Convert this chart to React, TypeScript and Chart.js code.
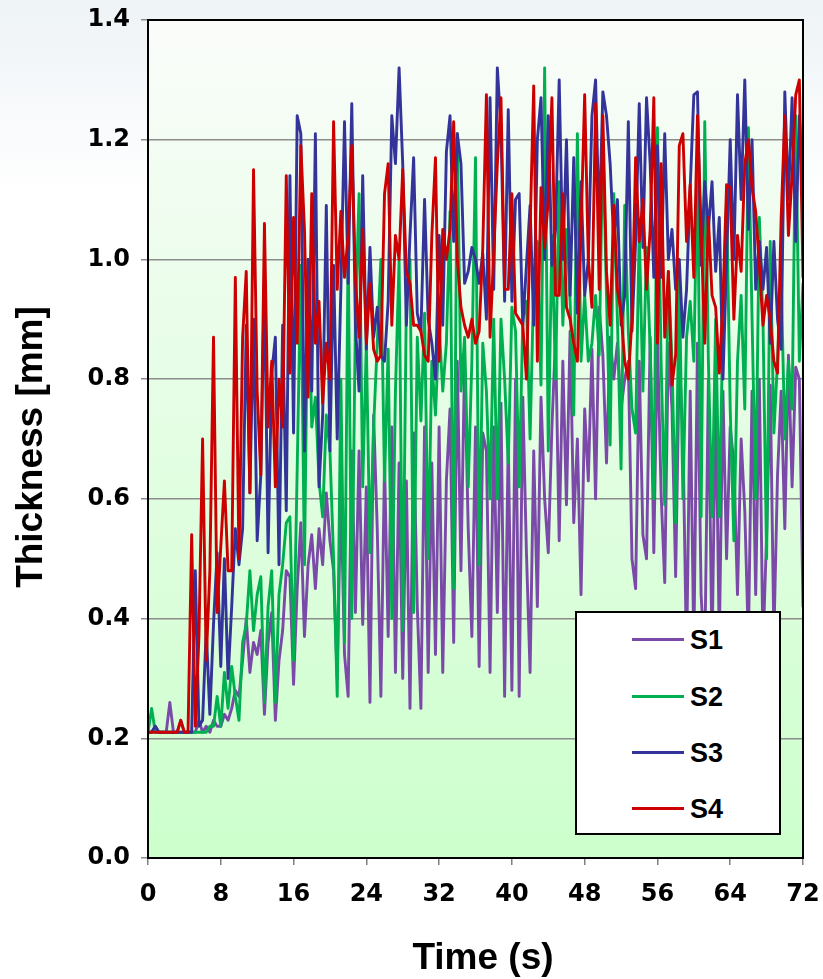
import React, { useEffect, useRef } from "react";
import { Chart, registerables } from "chart.js";

Chart.register(...registerables);

// ---- data (time step 0.4 s, from 0 to 72 s) ----
const DT = 0.4;

const S1 = [
  0.21, 0.21, 0.22, 0.21, 0.21, 0.21, 0.26, 0.21, 0.21, 0.23,
  0.21, 0.21, 0.21, 0.21, 0.23, 0.21, 0.22, 0.21, 0.23, 0.22,
  0.22, 0.24, 0.23, 0.25, 0.28, 0.27, 0.33, 0.40, 0.31, 0.36,
  0.34, 0.38, 0.24, 0.36, 0.41, 0.23, 0.33, 0.38, 0.48, 0.47,
  0.29, 0.45, 0.56, 0.37, 0.49, 0.54, 0.45, 0.55, 0.49, 0.61,
  0.53, 0.48, 0.30, 0.62, 0.34, 0.27, 0.68, 0.41, 0.68, 0.39,
  0.62, 0.26, 0.74, 0.55, 0.27, 0.66, 0.37, 0.72, 0.31, 0.66,
  0.30, 0.63, 0.25, 0.71, 0.42, 0.25, 0.72, 0.31, 0.66, 0.34,
  0.72, 0.31, 0.63, 0.75, 0.36, 0.83, 0.48, 0.83, 0.55, 0.37,
  0.72, 0.32, 0.71, 0.68, 0.31, 0.72, 0.41, 0.76, 0.27, 0.70,
  0.28, 0.80, 0.27, 0.77, 0.51, 0.31, 0.68, 0.42, 0.77, 0.60,
  0.51, 0.72, 0.87, 0.53, 0.83, 0.59, 0.88, 0.56, 0.70, 0.44,
  0.75, 0.63, 0.85, 0.60, 0.92, 0.84, 0.66, 0.87, 0.80, 0.86,
  0.75, 0.80, 0.83, 0.50, 0.45, 0.83, 0.54, 0.50, 0.87, 0.51,
  0.87, 0.61, 0.46, 0.86, 0.75, 0.47, 0.83, 0.71, 0.33, 0.78,
  0.35, 0.86, 0.44, 0.33, 0.80, 0.34, 0.78, 0.36, 0.78, 0.50,
  0.72, 0.66, 0.44, 0.70, 0.58, 0.36, 0.78, 0.44, 0.80, 0.35,
  0.54, 0.79, 0.37, 0.64, 0.78, 0.55, 0.84, 0.62, 0.82, 0.80,
  0.42,
];

const S2 = [
  0.21, 0.25, 0.21, 0.21, 0.21, 0.21, 0.21, 0.21, 0.21, 0.21,
  0.21, 0.21, 0.21, 0.21, 0.21, 0.21, 0.21, 0.22, 0.22, 0.27,
  0.22, 0.31, 0.25, 0.32, 0.27, 0.23, 0.36, 0.39, 0.48, 0.38,
  0.44, 0.47, 0.26, 0.42, 0.48, 0.26, 0.44, 0.49, 0.56, 0.57,
  0.33, 0.65, 0.99, 0.49, 1.00, 0.72, 0.77, 0.63, 0.57, 0.74,
  0.68, 0.50, 0.27, 0.80, 0.36, 1.02, 0.40, 0.90, 1.11, 0.62,
  0.86, 0.51, 0.72, 0.86, 1.00, 0.63, 0.85, 0.40, 0.78, 1.00,
  0.38, 0.93, 1.00, 0.41, 0.87, 0.73, 0.91, 0.50, 0.83, 0.74,
  0.89, 0.78, 0.86, 1.08, 0.45, 1.21, 0.78, 0.87, 0.62, 0.83,
  1.17, 0.49, 0.86, 0.78, 0.60, 0.90, 0.60, 0.90, 0.80, 0.66,
  0.92, 0.88, 0.62, 0.90, 0.93, 0.70, 0.96, 1.03, 0.79, 1.32,
  0.68, 1.04, 0.80, 1.13, 0.89, 1.05, 0.93, 0.74, 1.21, 0.83,
  0.94, 0.83, 0.86, 0.94, 0.84, 1.20, 0.94, 0.69, 1.11, 0.90,
  0.65, 1.09, 0.88, 0.75, 0.71, 1.05, 0.78, 1.02, 0.85, 0.60,
  1.22, 0.83, 0.59, 0.98, 0.83, 0.56, 0.97, 0.60, 0.87, 0.93,
  0.83, 1.16, 0.57, 1.23, 0.83, 0.57, 0.90, 0.57, 0.90, 1.10,
  0.75, 0.53, 0.83, 0.94, 0.75, 1.22, 0.90, 0.60, 1.07, 0.90,
  0.50, 1.03, 0.71, 0.83, 0.97, 0.70, 0.83, 0.75, 1.24, 0.83,
  0.96,
];

const S3 = [
  0.21, 0.21, 0.22, 0.21, 0.21, 0.21, 0.21, 0.21, 0.21, 0.21,
  0.21, 0.21, 0.21, 0.48, 0.22, 0.23, 0.38, 0.24, 0.39, 0.51,
  0.32, 0.50, 0.30, 0.42, 0.55, 0.49, 0.55, 0.89, 0.61, 0.90,
  0.53, 0.64, 0.97, 0.51, 0.81, 0.87, 0.49, 0.89, 0.58, 1.14,
  0.71, 1.24, 1.21, 0.68, 1.00, 0.78, 1.21, 0.62, 0.74, 1.09,
  0.68, 0.99, 0.70, 0.95, 1.23, 0.96, 1.26, 0.89, 0.78, 1.14,
  0.85, 1.02, 0.87, 0.92, 0.84, 0.83, 0.93, 1.24, 1.16, 1.32,
  1.16, 0.89, 1.04, 1.17, 0.91, 0.88, 1.10, 0.90, 0.86, 0.80,
  1.04, 0.89, 1.18, 1.24, 1.03, 1.21, 1.16, 0.96, 0.98, 1.02,
  1.00, 0.96, 1.01, 0.90, 1.27, 0.95, 1.32, 1.22, 0.93, 1.25,
  0.93, 1.10, 1.11, 0.89, 0.99, 1.09, 0.89, 1.20, 1.27, 1.00,
  1.24, 0.99, 1.05, 1.30, 1.00, 1.20, 0.94, 1.17, 0.91, 1.13,
  0.94, 1.00, 1.24, 1.30, 1.05, 1.28, 1.24, 1.16, 1.03, 1.10,
  0.89, 0.94, 1.23, 0.88, 1.03, 1.26, 1.02, 1.27, 1.16, 0.97,
  1.19, 0.97, 1.21, 1.00, 1.05, 0.95, 1.00, 0.87, 0.95, 1.12,
  1.275, 1.28, 0.99, 1.13, 1.05, 1.13, 0.98, 1.07, 0.80, 1.00,
  1.20, 1.00, 1.275, 1.10, 1.30, 1.05, 1.20, 0.95, 1.03, 0.95,
  1.02, 0.86, 1.03, 0.90, 0.85, 1.28, 1.10, 1.27, 1.03, 1.24,
  1.10,
];

const S4 = [
  0.21, 0.21, 0.21, 0.21, 0.21, 0.21, 0.21, 0.21, 0.21, 0.23,
  0.21, 0.21, 0.54, 0.22, 0.37, 0.70, 0.33, 0.48, 0.87, 0.41,
  0.52, 0.63, 0.48, 0.48, 0.97, 0.50, 0.87, 0.98, 0.61, 1.15,
  0.78, 0.64, 1.06, 0.72, 0.83, 0.62, 0.80, 0.72, 1.14, 0.81,
  1.07, 0.86, 1.19, 1.05, 0.77, 1.11, 0.86, 0.93, 0.76, 0.86,
  0.80, 1.23, 0.95, 1.08, 0.97, 1.04, 1.19, 0.97, 0.87, 1.05,
  0.86, 0.96, 0.85, 0.83, 0.84, 1.11, 1.16, 0.89, 1.04, 1.00,
  1.15, 0.98, 0.96, 0.89, 0.89, 0.88, 0.84, 0.83, 1.04, 1.17,
  0.83, 1.05, 1.00, 1.05, 1.23, 1.00, 0.92, 0.89, 0.87, 0.90,
  0.86, 0.88, 1.02, 1.275, 0.87, 1.01, 1.16, 1.27, 0.95, 0.95,
  1.11, 0.91, 0.90, 0.89, 0.80, 1.05, 1.29, 0.83, 1.12, 1.02,
  1.10, 1.27, 0.94, 0.94, 1.11, 0.92, 0.90, 0.86, 0.83, 1.05,
  1.275, 1.00, 0.92, 1.26, 0.95, 1.24, 0.98, 0.89, 1.09, 0.95,
  0.91, 0.83, 0.80, 0.90, 1.17, 1.03, 1.10, 0.95, 1.05, 1.27,
  0.86, 1.16, 0.87, 0.98, 0.79, 0.84, 1.19, 1.21, 1.03, 1.125,
  0.97, 1.24, 1.05, 0.86, 1.07, 0.94, 0.92, 0.81, 0.93, 1.125,
  1.12, 0.90, 1.04, 0.98, 1.16, 1.20, 1.12, 1.08, 0.99, 0.89,
  0.94, 0.90, 0.83, 0.81, 1.07, 1.24, 1.04, 1.14, 1.275, 1.30,
  0.97,
];

const SERIES = [S1, S2, S3, S4];
const SERIES_NAMES = ["S1", "S2", "S3", "S4"];
const SERIES_COLORS = ["#7b4aa8", "#00b050", "#333399", "#cc0000"];

const X_MIN = 0;
const X_MAX = 72;
const X_STEP = 8;
const Y_MIN = 0;
const Y_MAX = 1.4;
const Y_STEP = 0.2;

const X_TITLE = "Time (s)";
const Y_TITLE = "Thickness [mm]";

const FONT = "'Liberation Sans', Arial, Helvetica, sans-serif";
const TICK_FONT = "'DejaVu Sans', Verdana, sans-serif";

const W = 823;
const H = 979;

const framePlugin = {
  id: "frame",
  beforeDraw(chart: any) {
    const { ctx, width, height, chartArea: a } = chart;
    ctx.save();
    const g = ctx.createLinearGradient(0, 0, 0, height);
    g.addColorStop(0, "#eef3f6");
    g.addColorStop(0.2, "#ffffff");
    g.addColorStop(1, "#ffffff");
    ctx.fillStyle = g;
    ctx.fillRect(0, 0, width, height);
    const pg = ctx.createLinearGradient(0, a.top, 0, a.bottom);
    pg.addColorStop(0, "#fafcfa");
    pg.addColorStop(1, "#ccffcc");
    ctx.fillStyle = pg;
    ctx.fillRect(a.left, a.top, a.right - a.left, a.bottom - a.top);
    ctx.restore();
  },
  afterDatasetsDraw(chart: any) {
    const { ctx, chartArea: a } = chart;
    ctx.save();
    ctx.strokeStyle = "#000";
    ctx.lineWidth = 2;
    ctx.strokeRect(a.left, a.top, a.right - a.left, a.bottom - a.top);
    ctx.restore();
  },
};

export default function App() {
  const ref = useRef<HTMLCanvasElement | null>(null);

  useEffect(() => {
    document.body.style.margin = "0";
    const canvas = ref.current;
    if (!canvas) return;
    const datasets = SERIES.map((vals, si) => ({
      label: SERIES_NAMES[si],
      data: vals.map((v, i) => ({ x: +(i * DT).toFixed(2), y: v })),
      borderColor: SERIES_COLORS[si],
      backgroundColor: SERIES_COLORS[si],
      borderWidth: 2.9,
      borderJoinStyle: "round",
      borderCapStyle: "round",
      pointRadius: 0,
      tension: 0,
      fill: false,
      order: SERIES.length - si,
    }));

    const chart = new Chart(canvas, {
      type: "line",
      data: { datasets },
      options: {
        responsive: false,
        animation: false,
        devicePixelRatio: 1,
        layout: { padding: { left: 0, right: 20, top: 20, bottom: 0 } },
        plugins: {
          legend: { display: false },
          tooltip: { enabled: false },
        },
        scales: {
          x: {
            type: "linear",
            min: X_MIN,
            max: X_MAX,
            ticks: {
              stepSize: X_STEP,
              color: "#000",
              padding: 15,
              maxRotation: 0,
              font: { family: TICK_FONT, size: 24, weight: "bold" },
            },
            grid: {
              drawOnChartArea: false,
              drawTicks: true,
              tickLength: 7,
              color: "#808080",
              lineWidth: 1.5,
            },
            border: { display: true, color: "#000", width: 2 },
            title: { display: false },
            afterFit: (s: any) => {
              s.height = H - 858;
              s.paddingLeft = 0;
              s.paddingRight = 0;
            },
          },
          y: {
            type: "linear",
            min: Y_MIN,
            max: Y_MAX,
            ticks: {
              stepSize: Y_STEP,
              color: "#000",
              padding: 11,
              font: { family: TICK_FONT, size: 24, weight: "bold" },
              callback: (v: any) => Number(v).toFixed(1),
            },
            grid: {
              color: "#8c8c8c",
              lineWidth: 1.5,
              drawTicks: true,
              tickLength: 7,
            },
            border: { display: true, color: "#000", width: 2 },
            title: { display: false },
            afterFit: (s: any) => {
              s.width = 148;
              s.paddingTop = 0;
              s.paddingBottom = 0;
            },
          },
        },
      },
      plugins: [framePlugin],
    } as any);

    return () => chart.destroy();
  }, []);

  const legendRows = [27, 84, 140, 196];

  const titleStyle: React.CSSProperties = {
    position: "absolute",
    fontFamily: FONT,
    fontWeight: "bold",
    fontSize: 37,
    lineHeight: "44px",
    height: 44,
    color: "#000",
    textAlign: "center",
    whiteSpace: "nowrap",
  };

  return (
    <div style={{ position: "relative", width: W, height: H }}>
      <canvas ref={ref} width={W} height={H} style={{ display: "block" }} />
      <div style={{ ...titleStyle, left: 283, top: 935, width: 400 }}>{X_TITLE}</div>
      <div
        style={{
          ...titleStyle,
          left: 30 - 200,
          top: 447 - 22,
          width: 400,
          transform: "rotate(-90deg)",
          transformOrigin: "50% 50%",
        }}
      >
        {Y_TITLE}
      </div>
      <div
        style={{
          position: "absolute",
          left: 575,
          top: 611,
          width: 206,
          height: 224,
          boxSizing: "border-box",
          border: "2px solid #000",
          background: "#ffffff",
        }}
      >
        {SERIES_NAMES.map((name, i) => (
          <div key={name}>
            <div
              style={{
                position: "absolute",
                left: 55,
                top: legendRows[i] - 2,
                width: 52,
                height: 3,
                background: SERIES_COLORS[i],
              }}
            />
            <div
              style={{
                position: "absolute",
                left: 113,
                top: legendRows[i] - 17,
                height: 34,
                lineHeight: "34px",
                fontFamily: FONT,
                fontWeight: "bold",
                fontSize: 27,
                color: "#000",
              }}
            >
              {name}
            </div>
          </div>
        ))}
      </div>
    </div>
  );
}
